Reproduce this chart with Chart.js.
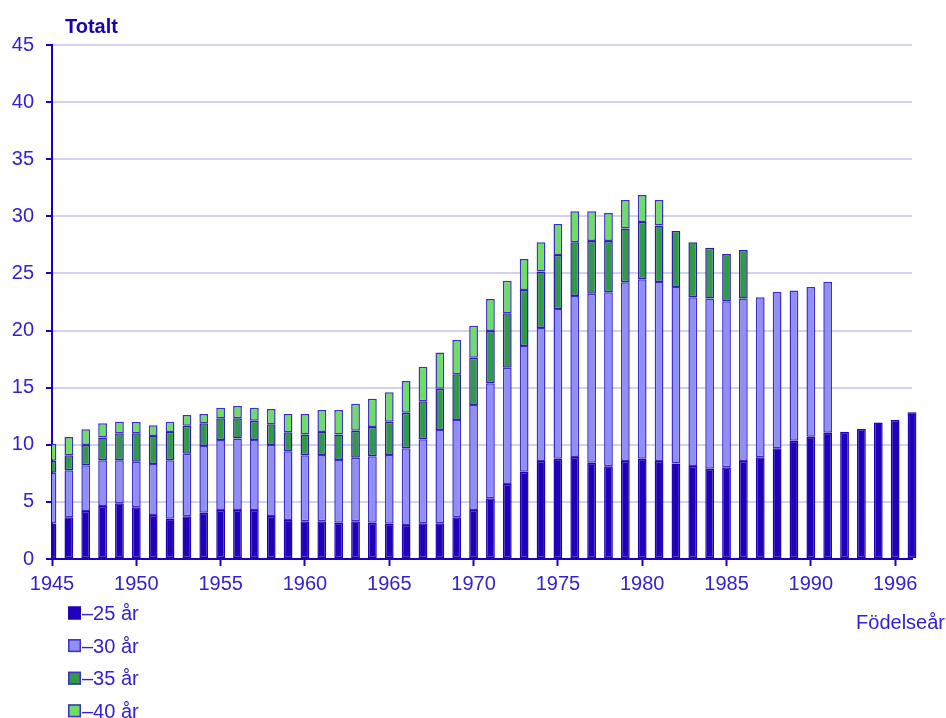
<!DOCTYPE html>
<html>
<head>
<meta charset="utf-8">
<script src="https://cdn.jsdelivr.net/npm/chart.js@4.4.1/dist/chart.umd.min.js"></script>
<style>
    html, body { margin: 0; padding: 0; background: #fff; }
    #wrap { width: 946px; height: 718px; }
</style>
</head>
<body>
<div id="wrap"><canvas id="chartTotalt" width="946" height="718"></canvas></div>
<script>
const years = [];
for (let y = 1945; y <= 1996; y++) years.push(String(y));

// x tick labels and the category index they sit on
const xTickLabels = ["1945", "1950", "1955", "1960", "1965", "1970", "1975", "1980", "1985", "1990", "1996"];
const xTickIndex = [0, 5, 10, 15, 20, 25, 30, 35, 40, 45, 50];

const seriesNames = ["\u201325 år", "\u201330 år", "\u201335 år", "\u201340 år"];

// 1945 .. 1996
const under25 = [
    3.1, 3.65, 4.2, 4.64, 4.87, 4.52, 3.85, 3.53, 3.74, 4.06,
    4.29, 4.29, 4.29, 3.76, 3.42, 3.3, 3.3, 3.18, 3.3, 3.18,
    3.08, 2.98, 3.12, 3.12, 3.65, 4.29, 5.31, 6.57, 7.64, 8.58,
    8.78, 8.93, 8.43, 8.12, 8.58, 8.78, 8.58, 8.35, 8.14, 7.91,
    8.03, 8.58, 8.9, 9.69, 10.36, 10.71, 11.06, 11.15, 11.38, 11.94,
    12.17, 12.84,
];
const under30 = [
    4.45, 4.12, 4.0, 4.0, 3.77, 4.0, 4.47, 5.11, 5.48, 5.84,
    6.13, 6.25, 6.13, 6.22, 6.01, 5.78, 5.8, 5.49, 5.57, 5.81,
    6.02, 6.71, 7.36, 8.18, 8.52, 9.2, 10.07, 10.18, 11.01, 11.65,
    13.11, 14.1, 14.8, 15.23, 15.65, 15.71, 15.68, 15.47, 14.78, 14.89,
    14.54, 14.22, 14.02, 13.69, 13.14, 13.11, 13.22,
];
const under35 = [
    1.05, 1.31, 1.78, 2.0, 2.36, 2.48, 2.45, 2.48, 2.45, 1.98,
    1.9, 1.78, 1.69, 1.82, 1.66, 1.81, 2.02, 2.22, 2.36, 2.57,
    2.92, 3.12, 3.33, 3.61, 4.0, 4.14, 4.58, 4.76, 4.9, 4.93,
    4.73, 4.7, 4.62, 4.5, 4.7, 5.02, 4.93, 4.9, 4.81, 4.46,
    4.14, 4.26,
];
const under40 = [
    1.5, 1.6, 1.38, 1.25, 1.02, 1.0, 0.93, 0.9, 0.93, 0.82,
    0.93, 1.08, 1.14, 1.33, 1.61, 1.81, 1.93, 2.16, 2.37, 2.48,
    2.58, 2.78, 3.03, 3.16, 3.01, 2.8, 2.81, 2.86, 2.72, 2.57,
    2.71, 2.71, 2.59, 2.45, 2.51, 2.36, 2.25,
];

const fillColors = ["#2000b8", "#8f8ff5", "#33994a", "#6ddd66"];
const edgeColors = ["#2000b8", "#3f2ec8", "#2a1fa8", "#3f2ec8"];
const axisColor = "#2200bb";
const textColor = "#3322cc";
const fontFamily = "Arial, 'Liberation Sans', sans-serif";

// pad the shorter series with null so no empty bars get drawn
function pad(arr) {
    const out = arr.slice();
    while (out.length < years.length) out.push(null);
    return out;
}

const allSeries = [under25, under30, under35, under40];

const datasets = allSeries.map((arr, i) => ({
    label: seriesNames[i],
    data: pad(arr),
    backgroundColor: fillColors[i],
    borderColor: edgeColors[i],
    borderWidth: 1.5,
    borderSkipped: false,
    barPercentage: 0.52,
    categoryPercentage: 1.0,
    clip: { left: 0, right: false, top: false, bottom: 0 },
}));

// legend, title and axis caption drawn straight onto the canvas
const textPlugin = {
    id: "textPlugin",
    afterDraw: (chart) => {
        const ctx = chart.ctx;
        ctx.save();
        ctx.textBaseline = "alphabetic";

        ctx.fillStyle = "#2000aa";
        ctx.font = "bold 20px " + fontFamily;
        ctx.textAlign = "left";
        ctx.fillText("Totalt", 65, 33);

        ctx.fillStyle = textColor;
        ctx.font = "20px " + fontFamily;
        ctx.textAlign = "right";
        ctx.fillText("Födelseår", 945, 629);

        ctx.textAlign = "left";
        seriesNames.forEach((name, i) => {
            const cy = 613 + i * 32.6;
            ctx.fillStyle = fillColors[i];
            ctx.fillRect(68, cy - 6.5, 13, 13);
            ctx.strokeStyle = i === 0 ? fillColors[0] : "#3f2ec8";
            ctx.lineWidth = 1.5;
            ctx.strokeRect(68.75, cy - 5.75, 11.5, 11.5);
            ctx.fillStyle = textColor;
            ctx.fillText(name, 82, cy + 7);
        });
        ctx.restore();
    },
};

const ctxTotalt = document.getElementById("chartTotalt").getContext("2d");
const barChartTotalt = new Chart(ctxTotalt, {
    type: "bar",
    data: {
        labels: years,
        datasets: datasets,
    },
    options: {
        responsive: false,
        animation: false,
        layout: {
            padding: { top: 45, right: 34, bottom: 0, left: 0 },
        },
        plugins: {
            legend: { display: false },
            title: { display: false },
            tooltip: { enabled: false },
        },
        scales: {
            x: {
                stacked: true,
                offset: false,
                afterFit: (scale) => {
                    scale.height = 159;
                },
                border: { color: axisColor, width: 2 },
                grid: {
                    offset: false,
                    drawOnChartArea: false,
                    drawTicks: true,
                    tickLength: 7,
                    tickColor: axisColor,
                    tickWidth: 2,
                },
                ticks: {
                    autoSkip: false,
                    maxRotation: 0,
                    padding: 6,
                    color: textColor,
                    font: { family: fontFamily, size: 20 },
                    callback: function (value, index) {
                        const k = xTickIndex.indexOf(index);
                        return k >= 0 ? xTickLabels[k] : null;
                    },
                },
            },
            y: {
                stacked: true,
                min: 0,
                max: 45,
                afterFit: (scale) => {
                    scale.width = 52;
                },
                border: { color: axisColor, width: 2 },
                grid: {
                    color: "#d2d2ee",
                    lineWidth: 2,
                    tickLength: 6,
                    tickColor: axisColor,
                    tickWidth: 2,
                },
                ticks: {
                    stepSize: 5,
                    padding: 12,
                    color: textColor,
                    font: { family: fontFamily, size: 20 },
                },
            },
        },
    },
    plugins: [textPlugin],
});
</script>
</body>
</html>
